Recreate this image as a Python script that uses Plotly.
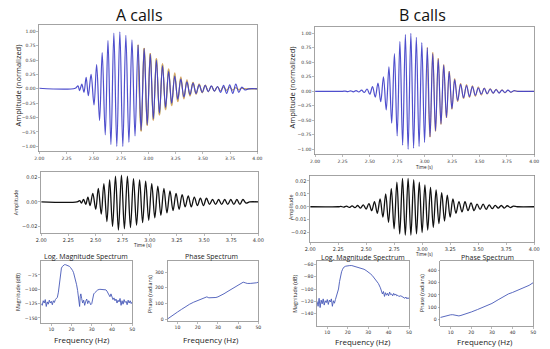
import plotly.graph_objects as go

W, H = 550, 349

# ---------------- A calls: waveform extrema (time s, amplitude) ----------------
a_t = [2.00, 2.33, 2.355, 2.37, 2.39, 2.41, 2.43, 2.45, 2.475, 2.502,
       2.526, 2.553, 2.577, 2.605, 2.630, 2.657, 2.684, 2.711, 2.739, 2.766,
       2.794, 2.822, 2.850, 2.878, 2.906, 2.934, 2.962, 2.990, 3.018, 3.046,
       3.074, 3.102, 3.130, 3.158, 3.186, 3.214, 3.242, 3.270, 3.298, 3.326,
       3.354, 3.382, 3.410, 3.438, 3.466, 3.494, 3.522, 3.550, 3.578, 3.606,
       3.634, 3.662, 3.690, 3.718, 3.746, 3.774, 3.802, 3.830, 3.858, 3.886,
       3.92, 4.00]
a_norm = [0.01, 0.01, 0.05, -0.03, 0.08, -0.06, 0.2, -0.12, 0.25, -0.28,
          0.42, -0.55, 0.63, -0.8, 0.84, -0.97, 0.97, -1.0, 0.99, -1.0,
          0.93, -0.93, 0.85, -0.82, 0.76, -0.72, 0.7, -0.62, 0.6, -0.52,
          0.5, -0.42, 0.4, -0.32, 0.3, -0.25, 0.22, -0.18, 0.17, -0.14,
          0.12, -0.1, 0.1, -0.08, 0.07, -0.06, 0.06, -0.05, 0.05, -0.04,
          0.04, -0.06, 0.06, -0.08, 0.07, -0.08, 0.08, -0.06, 0.03, -0.02,
          0.0, 0.0]
a_tail_t = a_t[24:]
a_orange = [0.77, -0.74, 0.71, -0.64, 0.62, -0.55, 0.53, -0.46, 0.44, -0.37,
            0.35, -0.3, 0.28, -0.23, 0.21, -0.18, 0.16, -0.13, 0.12, -0.1,
            0.09, -0.07, 0.07, -0.05, 0.05, -0.04, 0.03, -0.03, 0.03, -0.02,
            0.02, -0.02, 0.02, -0.01, 0.01, 0.0, 0.0, 0.0]
a_green = [0.76, -0.73, 0.7, -0.63, 0.61, -0.54, 0.52, -0.45, 0.42, -0.35,
           0.33, -0.28, 0.25, -0.21, 0.19, -0.16, 0.14, -0.12, 0.11, -0.09,
           0.08, -0.07, 0.06, -0.05, 0.05, -0.04, 0.04, -0.03, 0.03, -0.03,
           0.03, -0.02, 0.02, -0.02, 0.01, 0.0, 0.0, 0.0]
a_call = [0.0, 0.0, 0.001, -0.001, 0.002, -0.002, 0.004, -0.003, 0.007, -0.006,
          0.011, -0.01, 0.015, -0.016, 0.018, -0.02, 0.021, -0.023, 0.022, -0.022,
          0.021, -0.021, 0.019, -0.019, 0.018, -0.017, 0.017, -0.015, 0.015, -0.013,
          0.013, -0.011, 0.011, -0.009, 0.009, -0.007, 0.007, -0.006, 0.006, -0.004,
          0.005, -0.004, 0.004, -0.003, 0.003, -0.003, 0.003, -0.002, 0.002, -0.002,
          0.002, -0.002, 0.002, -0.002, 0.002, -0.002, 0.002, -0.002, 0.002, -0.001,
          0.0, 0.0]

# ---------------- B calls ----------------
b_t = [2.00, 2.25, 2.274, 2.299, 2.324, 2.349, 2.374, 2.399, 2.424, 2.449,
       2.474, 2.499, 2.524, 2.549, 2.574, 2.599, 2.624, 2.649, 2.674, 2.699,
       2.724, 2.749, 2.774, 2.799, 2.824, 2.849, 2.874, 2.899, 2.924, 2.949,
       2.974, 2.999, 3.024, 3.049, 3.074, 3.099, 3.124, 3.149, 3.174, 3.199,
       3.224, 3.249, 3.274, 3.301, 3.328, 3.355, 3.382, 3.409, 3.436, 3.463,
       3.490, 3.517, 3.544, 3.571, 3.598, 3.625, 3.652, 3.679, 3.706, 3.733,
       3.760, 3.787, 3.814, 3.85, 4.00]
b_norm = [0.0, 0.0, 0.005, -0.005, 0.008, -0.008, 0.012, -0.012, 0.02, -0.02,
          0.04, -0.05, 0.08, -0.1, 0.14, -0.18, 0.25, -0.32, 0.42, -0.55,
          0.65, -0.77, 0.86, -0.93, 0.98, -1.0, 1.0, -0.98, 0.93, -0.95,
          0.84, -0.88, 0.75, -0.78, 0.65, -0.68, 0.55, -0.56, 0.45, -0.45,
          0.34, -0.3, 0.2, -0.16, 0.12, -0.11, 0.1, -0.09, 0.08, -0.07,
          0.06, -0.05, 0.05, -0.04, 0.04, -0.03, 0.03, -0.03, 0.02, -0.02,
          0.02, -0.015, 0.01, 0.0, 0.0]
b_tail_t = b_t[32:]
b_orange = [0.76, -0.79, 0.67, -0.69, 0.57, -0.57, 0.46, -0.46, 0.35, -0.31,
            0.22, -0.18, 0.14, -0.13, 0.12, -0.11, 0.1, -0.09, 0.08, -0.07,
            0.06, -0.05, 0.05, -0.04, 0.04, -0.03, 0.03, -0.03, 0.02, -0.02,
            0.01, 0.0, 0.0]
b_call = [0.0, 0.0, 0.0003, -0.0003, 0.0005, -0.0005, 0.0007, -0.0007, 0.001, -0.001,
          0.0015, -0.0018, 0.0025, -0.003, 0.004, -0.005, 0.006, -0.008, 0.01, -0.012,
          0.014, -0.017, 0.019, -0.021, 0.022, -0.022, 0.022, -0.022, 0.021, -0.021,
          0.019, -0.02, 0.017, -0.018, 0.015, -0.016, 0.013, -0.013, 0.011, -0.011,
          0.009, -0.008, 0.006, -0.005, 0.004, -0.004, 0.004, -0.003, 0.003, -0.003,
          0.002, -0.002, 0.002, -0.002, 0.0015, -0.0015, 0.001, -0.001, 0.001, -0.001,
          0.0008, -0.0006, 0.0005, 0.0, 0.0]

# ---------------- Spectra ----------------
a_mag_f = [5, 5.5, 6, 6.5, 7, 7.5, 8, 8.5, 9, 9.5, 10, 10.5, 11, 11.5, 12, 12.5, 13, 13.5,
           14, 14.5, 15, 15.5, 16, 16.5, 17, 17.5, 18, 18.5, 19, 19.5, 20, 20.5, 21, 21.5,
           22, 22.5, 23, 23.5, 24, 24.3, 24.6, 25, 25.5, 26, 26.5, 27, 27.5, 28, 28.5, 29,
           29.5, 30, 30.5, 31, 31.5, 32, 33, 34, 35, 36, 37, 37.5, 38, 38.5, 39, 39.5, 40,
           40.5, 41, 41.5, 42, 42.5, 43, 43.5, 44, 44.5, 45, 45.5, 46, 46.5, 47, 47.5, 48,
           48.5, 49, 49.5, 50]
a_mag_db = [-125, -128, -120, -124, -118, -130, -122, -126, -119, -124, -121, -127, -120, -123,
            -118, -116, -114, -105, -90, -72, -63, -60, -58, -57, -57, -57.5, -58, -59, -60,
            -62, -64, -67, -71, -77, -84, -92, -102, -118, -130, -112, -108, -116, -124, -119,
            -128, -121, -117, -125, -120, -123, -127, -125, -115, -108, -106, -104, -101,
            -100, -100, -100, -101, -103, -106, -110, -113, -108, -112, -118, -115, -120,
            -117, -124, -119, -122, -116, -128, -120, -126, -118, -123, -121, -127, -119,
            -124, -120, -125, -122]
a_ph_f = [5, 6, 7, 8, 9, 10, 12, 14, 16, 18, 20, 22, 23.5, 24.5, 25.5, 27, 29, 30, 31, 33,
          35, 37, 39, 41, 42.5, 43.5, 44.5, 46, 48, 49, 50]
a_ph = [0, 8, 16, 25, 35, 45, 62, 80, 95, 108, 120, 132, 140, 142, 136, 135, 138, 142, 148,
        162, 178, 193, 208, 222, 236, 232, 228, 228, 229, 232, 236]

b_mag_f = [5, 5.5, 6, 6.5, 7, 7.5, 8, 8.5, 9, 9.5, 10, 10.5, 11, 11.5, 12, 12.5, 13, 13.5,
           14, 14.5, 15, 15.5, 16, 16.5, 17, 17.5, 18, 19, 20, 21, 22, 23, 24, 25, 26, 27,
           28, 29, 30, 31, 32, 33, 34, 35, 36, 36.5, 37, 37.5, 38, 38.5, 39, 39.5, 40, 40.5,
           41, 41.5, 42, 42.5, 43, 43.5, 44, 44.5, 45, 46, 47, 48, 48.5, 49, 49.5, 50]
b_mag_db = [-120, -128, -115, -130, -118, -124, -116, -126, -119, -122, -117, -125, -118,
            -121, -116, -128, -119, -123, -117, -112, -108, -100, -88, -78, -72, -68, -65,
            -63, -62, -62, -62, -63, -63.5, -64, -65, -66, -68, -70, -72, -75, -78, -82,
            -86, -91, -98, -103, -108, -104, -112, -106, -110, -107, -111, -105, -109, -108,
            -111, -107, -110, -108, -111, -110, -112, -111, -113, -115, -113, -116, -114, -116]
b_ph_f = [5, 6, 8, 9, 10, 11, 12, 13, 14, 15, 17, 20, 23, 26, 30, 33, 36, 38, 40, 43, 46, 48, 50]
b_ph = [15, 20, 28, 34, 37, 38, 35, 30, 28, 32, 42, 60, 80, 100, 130, 160, 192, 208, 220,
        240, 260, 278, 300]

time_ticks = [2.00, 2.25, 2.50, 2.75, 3.00, 3.25, 3.50, 3.75, 4.00]
freq_ticks = [10, 20, 30, 40, 50]

# ---------------- figure ----------------
fig = go.Figure()

BLUE = "#3c3cc8"
SPEC = "#4658b8"


def dom_x(l, r):
    return [l / W, r / W]


def dom_y(t, b):
    return [1 - b / H, 1 - t / H]


def add(x, y, xa, ya, color, width=1.0, shape="spline", opacity=1.0):
    fig.add_trace(go.Scatter(x=x, y=y, xaxis=xa, yaxis=ya, mode="lines",
                             line=dict(color=color, width=width, shape=shape, smoothing=1.0),
                             opacity=opacity, hoverinfo="skip", showlegend=False))


# top waveforms
add(a_tail_t, a_green, "x", "y", "#8fa04a", 1.0)
add(a_tail_t, a_orange, "x", "y", "#d9a766", 1.0)
add(a_t, a_norm, "x", "y", BLUE, 1.2, opacity=0.9)
add(b_tail_t, b_orange, "x2", "y2", "#d9a766", 1.0)
add(b_t, b_norm, "x2", "y2", BLUE, 1.2, opacity=0.9)
# single-call waveforms
add(a_t, a_call, "x3", "y3", "#111111", 1.3)
add(b_t, b_call, "x4", "y4", "#111111", 1.3)
# spectra
add(a_mag_f, a_mag_db, "x5", "y5", SPEC, 0.9, shape="linear")
add(a_ph_f, a_ph, "x6", "y6", SPEC, 0.9, shape="linear")
add(b_mag_f, b_mag_db, "x7", "y7", SPEC, 0.9, shape="linear")
add(b_ph_f, b_ph, "x8", "y8", SPEC, 0.9, shape="linear")

FRAME = "#8c8c8c"


def ax(domain, rng, tickvals, fmt, fs, anchor):
    return dict(domain=domain, range=rng, tickvals=tickvals, tickformat=fmt,
                showline=True, mirror=True, linecolor=FRAME, linewidth=0.8,
                ticks="outside", ticklen=2, tickwidth=0.6, tickcolor=FRAME,
                showgrid=False, zeroline=False, anchor=anchor, fixedrange=True,
                tickfont=dict(family="DejaVu Sans", size=fs, color="#333"))


panels = {
    "1": ((34, 257), (25, 152), [2, 4], [-1.09, 1.11], time_ticks, ".2f",
          [-1, -0.75, -0.5, -0.25, 0, 0.25, 0.5, 0.75, 1.0], ".2f", 4.5),
    "2": ((316, 540), (27, 155), [2, 4], [-1.09, 1.11], time_ticks, ".2f",
          [-1, -0.75, -0.5, -0.25, 0, 0.25, 0.5, 0.75, 1.0], ".2f", 4.5),
    "3": ((36, 258), (172, 234), [2, 4], [-0.0257, 0.0249], time_ticks, ".2f",
          [-0.02, 0, 0.02], ".2f", 5),
    "4": ((311, 540), (176, 243), [2, 4], [-0.0275, 0.0242], time_ticks, ".2f",
          [-0.02, -0.01, 0, 0.01, 0.02], ".2f", 5),
    "5": ((36, 129), (262, 324), [5, 50], [-159, -51], freq_ticks, "d",
          [-150, -125, -100, -75], "d", 4.6),
    "6": ((165, 258), (262, 322), [5, 50], [-13, 370], freq_ticks, "d",
          [0, 100, 200, 300], "d", 4.6),
    "7": ((318, 412), (262, 327), [5, 50], [-160, -55], freq_ticks, "d",
          [-140, -120, -100, -80, -60], "d", 4.6),
    "8": ((444, 539), (262, 327), [5, 50], [-55, 475], freq_ticks, "d",
          [0, 100, 200, 300, 400], "d", 4.6),
}

layout = dict(width=W, height=H, margin=dict(l=0, r=0, t=0, b=0),
              paper_bgcolor="white", plot_bgcolor="white", showlegend=False)
for k, (xd, yd, xr, yr, xt, xf, yt, yf, fs) in panels.items():
    xn = "xaxis" if k == "1" else "xaxis" + k
    yn = "yaxis" if k == "1" else "yaxis" + k
    xid = "x" if k == "1" else "x" + k
    yid = "y" if k == "1" else "y" + k
    layout[xn] = ax(dom_x(*xd), xr, xt, xf, fs, yid)
    layout[yn] = ax(dom_y(*yd), yr, yt, yf, fs, xid)

fig.update_layout(**layout)

TF = "Open Sans"


def note(text, x, y, size, angle=0, color="#222"):
    fig.add_annotation(text=text, x=x / W, y=1 - y / H, xref="paper", yref="paper",
                       showarrow=False, textangle=angle, xanchor="center", yanchor="middle",
                       borderpad=0, font=dict(family=TF, size=size, color=color))


note("A calls", 136, 15, 16, color="#111")
note("B calls", 426, 15, 16, color="#111")
note("Amplitude (normalized)", 12, 86, 7.5, -90)
note("Amplitude (normalized)", 292, 88, 7.5, -90)
note("Time (s)", 428, 167, 4.6)
note("Amplitude", 11, 203, 5.3, -90)
note("Amplitude", 292, 208, 5.3, -90)
note("Time (s)", 140, 246, 4.8)
note("Time (s)", 428, 255, 4.6)
note("Log. Magnitude Spectrum", 82, 257, 7)
note("Phase Spectrum", 210, 257, 7)
note("Log. Magnitude Spectrum", 365, 258, 7)
note("Phase Spectrum", 492, 258, 7)
note("Magnitude (dB)", 12, 293, 5.3, -90)
note("Phase (radians)", 147, 295, 5.3, -90)
note("Magnitude (dB)", 296, 295, 5.3, -90)
note("Phase (radians)", 425, 294, 5.3, -90)
note("Frequency (Hz)", 78, 340, 8)
note("Frequency (Hz)", 210, 340, 8)
note("Frequency (Hz)", 365, 342, 8)
note("Frequency (Hz)", 490, 342, 8)

fig.write_html("out.html", config={"displayModeBar": False, "staticPlot": True},
               post_script="document.body.style.margin='0';document.body.style.overflow='hidden';")
